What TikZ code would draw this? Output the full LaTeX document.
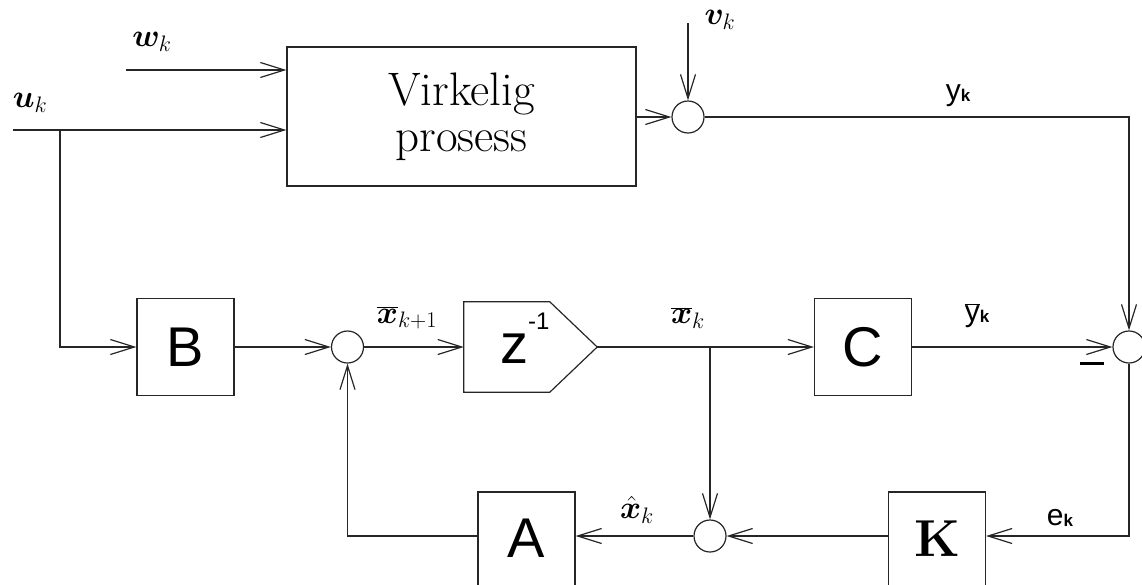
\RequirePackage{fix-cm}
\documentclass[tikz,border=0pt]{standalone}
\usepackage{bm}
\usepackage{fontspec}
\newfontfamily\arial{Liberation Sans}
\usetikzlibrary{arrows.meta}
\tikzset{
  wire/.style={line width=1.2pt, draw=black!85},
  sig/.style={wire, -{Straight Barb[length=24pt, width=15pt, line width=1.2pt]}},
  blk/.style={draw=black!85, line width=1.2pt, minimum width=97pt, minimum height=97pt, inner sep=0pt, font=\arial\fontsize{56}{60}\selectfont},
  sumc/.style={draw=black!85, circle, minimum size=32pt, inner sep=0pt, line width=1.2pt},
  lbl/.style={inner sep=0pt, font=\fontsize{32}{36}\selectfont},
  slbl/.style={inner sep=0pt, font=\arial\fontsize{30}{34}\selectfont},
}
\newcommand{\subk}{\raisebox{-1pt}{\fontsize{17}{19}\selectfont\bfseries k}}
\begin{document}
\begin{tikzpicture}[x=1pt, y=-1pt]
\useasboundingbox (0,0) rectangle (1142,584);
\clip (0,0) rectangle (1142,584);
% process
\node[draw=black!85, line width=1.2pt, minimum width=349pt, minimum height=139pt, inner sep=0pt, align=center, font=\fontsize{47}{46}\selectfont] (P) at (461.5,116.5) {Virkelig\\prosess};
\node[sumc] (sp) at (688,117) {};
\coordinate (vtop) at (688,23);
\coordinate (wst) at (126,70);
\coordinate (ust) at (13,130);
\coordinate (ub) at (60,130);
% middle row
\node[blk] (B) at (185.5,347) {B};
\node[sumc] (s1) at (347.5,347) {};
\node[minimum width=133pt, minimum height=90pt, inner sep=0pt] (D) at (530.5,347) {};
\draw[wire] (D.north west) -- ++(86,0) -- (D.east) -- ([xshift=86pt]D.south west) -- (D.south west) -- cycle;
\node[anchor=base west, inner sep=0pt, font=\arial\fontsize{56}{60}\selectfont] (zt) at (500,363) {z\raisebox{34pt}{\fontsize{24}{26}\selectfont -1}};
\node[blk] (C) at (863,347) {C};
\node[sumc] (s2) at (1129,347) {};
\coordinate (br) at (710,347);
% bottom row
\node[blk] (A) at (526.5,540.5) {\raisebox{5pt}{A}};
\node[blk, font=\bfseries\fontsize{52}{56}\selectfont] (K) at (937,540.5) {\raisebox{4pt}{K}};
\node[sumc] (s3) at (710,536) {};
% connectors
\draw[sig] (wst) -- (wst -| P.west);
\draw[sig] (ust) -- (ust -| P.west);
\draw[sig] (ub) |- (B.west);
\draw[sig] (sp -| P.east) -- (sp.west);
\draw[sig] (vtop) -- (sp.north);
\draw[sig] (sp.east) -| (s2.north);
\draw[sig] (B.east) -- (s1.west);
\draw[sig] (s1.east) -- (D.west);
\draw[sig] (D.east) -- (C.west);
\draw[sig] (C.east) -- (s2.west);
\draw[sig] (br) -- (s3.north);
\draw[sig] (s2.south) |- (s3 -| K.east);
\draw[sig] (s3 -| K.west) -- (s3.east);
\draw[sig] (s3.west) -- (s3 -| A.east);
\draw[sig] (s3 -| A.west) -| (s1.south);
% labels
\node[lbl] (lw) at (152,42) {$\bm{w}_k$};
\node[lbl] (lu) at (30,103) {$\bm{u}_k$};
\node[lbl] (lv) at (720,20) {$\bm{v}_k$};
\node[lbl] (lx1) at (407,318) {$\overline{\bm{x}}_{k+1}$};
\node[lbl] (lx) at (688,318) {$\overline{\bm{x}}_k$};
\node[lbl] (lxh) at (637,510) {$\hat{\bm{x}}_k$};
\node[slbl] (ly) at (958,96) {y\subk};
\node[slbl] (lyb) at (977,316) {$\overline{\mbox{y}}$\subk};
\node[slbl] (le) at (1060,518) {e\subk};
\node[inner sep=0pt] (minus) at (1092,363) {\rule{24pt}{3pt}};
\end{tikzpicture}
\end{document}
